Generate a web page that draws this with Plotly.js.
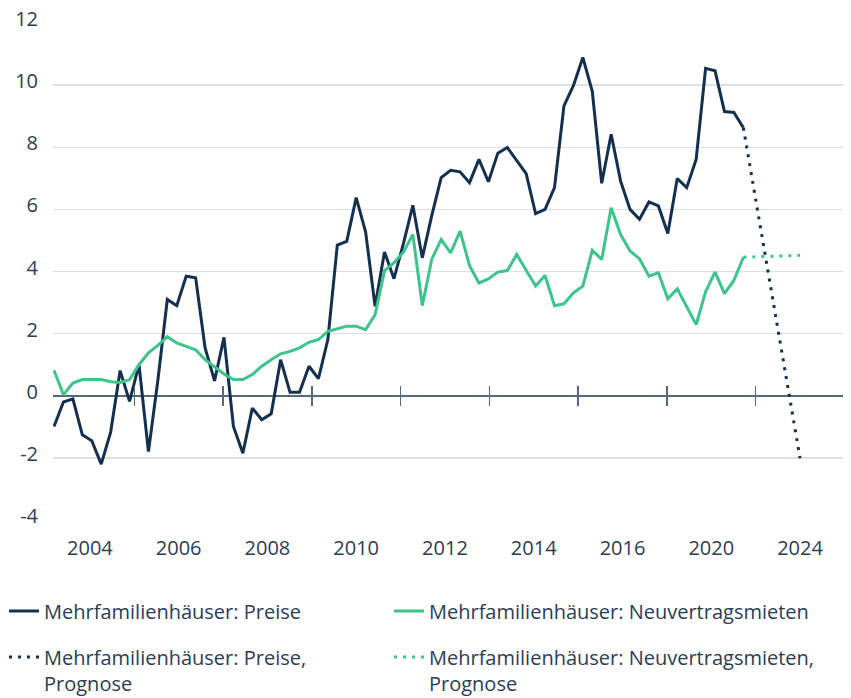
<!DOCTYPE html>
<html>
<head>
<meta charset="utf-8">
<script src="https://cdn.plot.ly/plotly-3.0.1.min.js"></script>
<style>
  html, body { margin: 0; padding: 0; background: #ffffff; }
  #chart { width: 851px; height: 698px; }
</style>
</head>
<body>
<div id="chart"></div>
<script>
// Quarterly observations (index of quarter, 0 = first quarter shown)
const quarterIdx = [
  0,1,2,3,4,5,6,7,8,9,10,11,12,13,14,15,16,17,18,19,
  20,21,22,23,24,25,26,27,28,29,30,31,32,33,34,35,36,37,38,39,
  40,41,42,43,44,45,46,47,48,49,50,51,52,53,54,55,56,57,58,59,
  60,61,62,63,64,65,66,67,68,69,70,71,72,73
];

// Mehrfamilienhäuser: Preise (% y/y)
const pricesValues = [
  -0.99,-0.20,-0.10,-1.26,-1.45,-2.20,-1.17,0.81,-0.18,1.00,
  -1.80,0.50,3.10,2.90,3.85,3.80,1.54,0.48,1.88,-0.99,
  -1.85,-0.40,-0.77,-0.58,1.16,0.11,0.11,0.95,0.55,1.81,
  4.85,4.97,6.38,5.27,2.88,4.63,3.77,4.90,6.13,4.44,
  5.80,7.02,7.26,7.21,6.86,7.61,6.89,7.81,7.99,7.56,
  7.15,5.86,6.00,6.70,9.33,9.98,10.89,9.80,6.84,8.42,
  6.91,6.00,5.68,6.24,6.11,5.22,6.99,6.70,7.61,10.54,
  10.46,9.15,9.12,8.63
];

// Mehrfamilienhäuser: Neuvertragsmieten (% y/y)
const rentsValues = [
  0.82,0.03,0.41,0.52,0.52,0.52,0.45,0.43,0.52,1.00,
  1.38,1.62,1.90,1.70,1.59,1.48,1.16,0.92,0.70,0.52,
  0.52,0.68,0.95,1.16,1.35,1.43,1.54,1.72,1.81,2.07,
  2.16,2.24,2.24,2.13,2.61,4.03,4.28,4.62,5.19,2.90,
  4.39,5.03,4.60,5.30,4.19,3.63,3.76,3.98,4.03,4.55,
  4.04,3.53,3.87,2.90,2.96,3.31,3.53,4.68,4.39,6.05,
  5.19,4.66,4.41,3.85,3.96,3.12,3.44,2.88,2.29,3.35,
  3.98,3.29,3.72,4.46
];

// Forecast segments
const forecastIdx = [73, 79];
const pricesForecast = [8.63, -2.01];
const rentsForecast = [4.46, 4.52];

// Axis labels
const xTickLabels = ["2004","2006","2008","2010","2012","2014","2016","2020","2024"];
const xLabelStart = 3.8;     // quarter-index position of first label
const xLabelStep = 9.4;      // spacing between labels (quarter-index units)
const yTickVals = [-4,-2,0,2,4,6,8,10,12];
const yTickLabels = ["-4","-2","0","2","4","6","8","10","12"];

const seriesNames = [
  "Mehrfamilienhäuser: Preise",
  "Mehrfamilienhäuser: Neuvertragsmieten",
  "Mehrfamilienhäuser: Preise,<br>Prognose",
  "Mehrfamilienhäuser: Neuvertragsmieten,<br>Prognose"
];

const NAVY = "#15304f";
const GREEN = "#3cc48b";
const TEXT = "#2a3d55";
const AXIS = "#56687b";

const labelPos = xTickLabels.map((_, i) => xLabelStart + xLabelStep * i);
const tickMarkPos = labelPos.slice(0, -1).map(v => v + xLabelStep / 2);

const xRange = [-0.106, 83.55];

const traces = [
  { x: quarterIdx, y: pricesValues, name: seriesNames[0], type: "scatter", mode: "lines",
    line: { color: NAVY, width: 3 }, legend: "legend", legendgroup: "a" },
  { x: quarterIdx, y: rentsValues, name: seriesNames[1], type: "scatter", mode: "lines",
    line: { color: GREEN, width: 3 }, legend: "legend2", legendgroup: "c" },
  { x: forecastIdx, y: pricesForecast, name: seriesNames[2], type: "scatter", mode: "lines",
    line: { color: NAVY, width: 3, dash: "3px,6px" }, legend: "legend", legendgroup: "b" },
  { x: forecastIdx, y: rentsForecast, name: seriesNames[3], type: "scatter", mode: "lines",
    line: { color: GREEN, width: 3, dash: "3px,6px" }, legend: "legend2", legendgroup: "d" },
  // helper traces so the tick-mark axes on the zero line are drawn
  { x: [], y: [], xaxis: "x2", yaxis: "y", showlegend: false, hoverinfo: "skip", type: "scatter", mode: "lines" },
  { x: [], y: [], xaxis: "x3", yaxis: "y", showlegend: false, hoverinfo: "skip", type: "scatter", mode: "lines" }
];

const legendCommon = {
  orientation: "v",
  xanchor: "left",
  yanchor: "top",
  y: -0.1439,
  valign: "top",
  traceorder: "grouped",
  tracegroupgap: 17,
  font: { size: 20, color: TEXT },
  bgcolor: "rgba(0,0,0,0)"
};

const layout = {
  width: 851,
  height: 698,
  margin: { l: 53, r: 8, t: 23, b: 178, autoexpand: false },
  paper_bgcolor: "#ffffff",
  plot_bgcolor: "#ffffff",
  font: { family: "Open Sans, sans-serif", size: 20, color: TEXT },
  showlegend: true,
  xaxis: {
    range: xRange,
    tickmode: "array",
    tickvals: labelPos,
    ticktext: xTickLabels,
    showgrid: false,
    zeroline: false,
    showline: false,
    ticks: "",
    ticklabelstandoff: 14,
    tickfont: { size: 20, color: TEXT }
  },
  xaxis2: {
    overlaying: "x",
    matches: "x",
    anchor: "free",
    position: 0.25,
    side: "bottom",
    range: xRange,
    tickmode: "array",
    tickvals: tickMarkPos,
    ticks: "outside",
    ticklen: 9,
    tickwidth: 1.5,
    tickcolor: AXIS,
    showticklabels: false,
    showgrid: false,
    zeroline: false,
    showline: false
  },
  xaxis3: {
    overlaying: "x",
    matches: "x",
    anchor: "free",
    position: 0.25,
    side: "top",
    range: xRange,
    tickmode: "array",
    tickvals: tickMarkPos,
    ticks: "outside",
    ticklen: 10,
    tickwidth: 1.5,
    tickcolor: AXIS,
    showticklabels: false,
    showgrid: false,
    zeroline: false,
    showline: false
  },
  yaxis: {
    range: [-4, 12],
    tickmode: "array",
    tickvals: yTickVals,
    ticktext: yTickLabels,
    showgrid: true,
    gridcolor: "#dde1e6",
    gridwidth: 1.5,
    zeroline: true,
    zerolinecolor: AXIS,
    zerolinewidth: 1.5,
    showline: false,
    ticks: "",
    ticklabelstandoff: 14,
    ticklabelshift: -4,
    tickfont: { size: 20, color: TEXT }
  },
  legend: Object.assign({}, legendCommon, { x: -0.062 }),
  legend2: Object.assign({}, legendCommon, { x: 0.4253 })
};

Plotly.newPlot("chart", traces, layout, { staticPlot: true, displayModeBar: false });
</script>
</body>
</html>
